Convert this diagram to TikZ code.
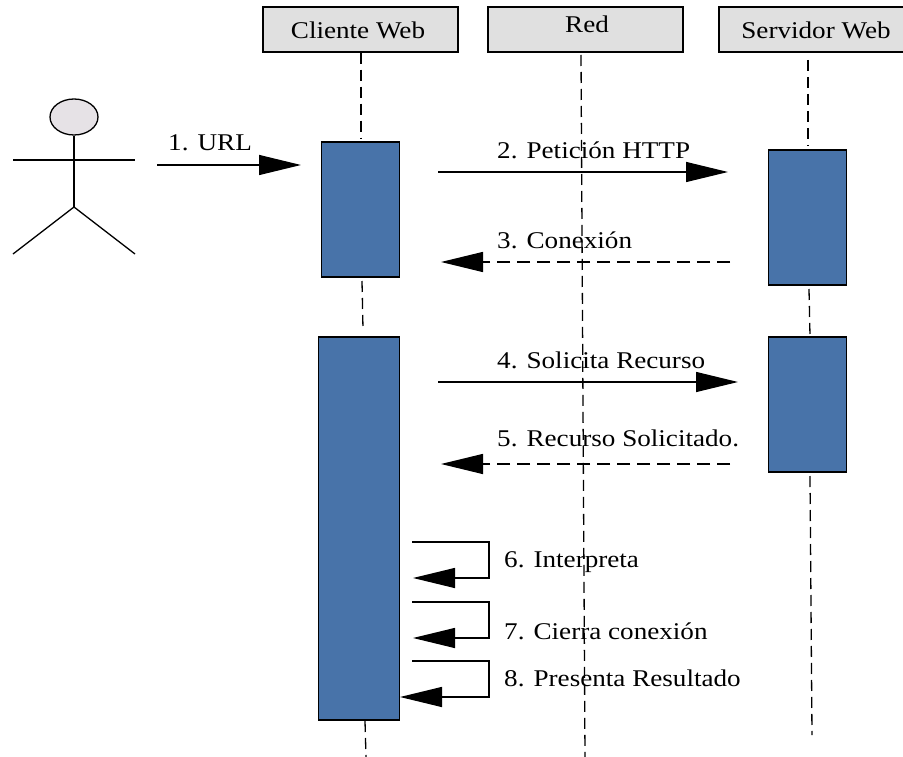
\documentclass[tikz,border=0pt]{standalone}
\usepackage{fontspec}
\setmainfont{Liberation Serif}
\usetikzlibrary{arrows.meta, shapes.geometric}

\definecolor{actblue}{HTML}{4873A9}
\definecolor{headgray}{HTML}{E0E0E0}
\definecolor{actorgray}{HTML}{E6E2E6}

\begin{document}
\begin{tikzpicture}[
      x=1pt, y=-1pt,
      head/.style={shape=rectangle, draw, fill=headgray, line width=1.3pt, inner sep=0pt},
      act/.style={shape=rectangle, draw, fill=actblue, line width=1.3pt, inner sep=0pt, minimum width=78pt},
      lbl/.style={inner sep=0pt, xscale=1.13, transform shape, font=\fontsize{24}{28}\selectfont},
      life/.style={line width=1.3pt, dash pattern=on 11pt off 6pt},
      msg/.style={line width=1.3pt, -{Triangle[length=42pt, width=20pt]}},
      back/.style={msg, dash pattern=on 13pt off 7pt}
    ]
      \useasboundingbox (0,0) rectangle (903,757);

      % Headers
      \node[head, minimum width=195pt, minimum height=45pt] (cliente) at (360.5,29.5) {};
      \node[head, minimum width=195pt, minimum height=45pt] (red) at (585.5,29.5) {};
      \node[head, minimum width=186pt, minimum height=45pt] (servidor) at (812,29.5) {};
      \node[lbl] (tcliente) at (358,30) {Cliente Web};
      \node[lbl] (tred) at (587,24) {Red};
      \node[lbl] (tservidor) at (816,30) {Servidor Web};

      % Activations
      \node[act, minimum height=135pt] (act1) at (360.5,209.5) {};
      \node[act, minimum width=81pt, minimum height=383pt] (act2) at (359,528.5) {};
      \node[act, minimum height=135pt] (act3) at (807.5,217.5) {};
      \node[act, minimum height=135pt] (act4) at (807.5,404.5) {};

      % Labels
      \node[lbl, anchor=west] (m1) at (168,143) {1. URL};
      \node[lbl, anchor=west] (m2) at (497,150) {2. Petición HTTP};
      \node[lbl, anchor=west] (m3) at (497,240) {3. Conexión};
      \node[lbl, anchor=west] (m4) at (497,360) {4. Solicita Recurso};
      \node[lbl, anchor=west] (m5) at (497,438) {5. Recurso Solicitado.};
      \node[lbl, anchor=west] (m6) at (504,562) {6. Interpreta};
      \node[lbl, anchor=west] (m7) at (504,631) {7. Cierra conexión};
      \node[lbl, anchor=west] (m8) at (504,678) {8. Presenta Resultado};

      % Lifelines
      \coordinate (c1) at (361,138);
      \coordinate (c2) at (362,281);
      \coordinate (c3) at (363,329);
      \coordinate (c4) at (365,721);
      \coordinate (c5) at (366,757);
      \coordinate (r1) at (581,55);
      \coordinate (r2) at (585,757);
      \coordinate (s1) at (808,60);
      \coordinate (s2) at (808,146);
      \coordinate (s3) at (809,289);
      \coordinate (s4) at (810,336);
      \coordinate (s5) at (810,476);
      \coordinate (s6) at (812,735);
      \draw[life] (cliente.south -| c1) -- (c1);
      \draw[life] (c2) -- (c3);
      \draw[life] (c4) -- (c5);
      \draw[life] (r1) -- (r2);
      \draw[life] (s1) -- (s2);
      \draw[life] (s3) -- (s4);
      \draw[life] (s5) -- (s6);

      % Actor
      \node[draw, ellipse, fill=actorgray, line width=1.3pt, minimum width=48pt, minimum height=36pt, inner sep=0pt] (cabeza) at (74,117) {};
      \coordinate (cadera) at (74,207);
      \coordinate (brazoi) at (13,160);
      \coordinate (brazod) at (135,160);
      \coordinate (piei) at (13,254);
      \coordinate (pied) at (135,254);
      \draw[line width=1.3pt] (cabeza.south) -- (cadera);
      \draw[line width=1.3pt] (brazoi) -- (brazod);
      \draw[line width=1.3pt] (piei) -- (cadera) -- (pied);

      % Messages
      \coordinate (a1) at (157,165);
      \coordinate (b1) at (301,165);
      \coordinate (a2) at (438,172);
      \coordinate (b2) at (728,172);
      \coordinate (a3) at (730,262);
      \coordinate (b3) at (441,262);
      \coordinate (a4) at (438,382);
      \coordinate (b4) at (738,382);
      \coordinate (a5) at (730,464);
      \coordinate (b5) at (441,464);
      \draw[msg] (a1) -- (b1);
      \draw[msg] (a2) -- (b2);
      \draw[back] (a3) -- (b3);
      \draw[msg] (a4) -- (b4);
      \draw[back] (a5) -- (b5);

      % Self messages
      \coordinate (a6) at (412,542);
      \coordinate (b6) at (413,578);
      \coordinate (a7) at (412,602);
      \coordinate (b7) at (413,638);
      \coordinate (a8) at (412,661);
      \coordinate (b8) at (400,697);
      \draw[msg] (a6) -- ++(77,0) |- (b6);
      \draw[msg] (a7) -- ++(77,0) |- (b7);
      \draw[msg] (a8) -- ++(77,0) |- (b8);
    \end{tikzpicture}
\end{document}
